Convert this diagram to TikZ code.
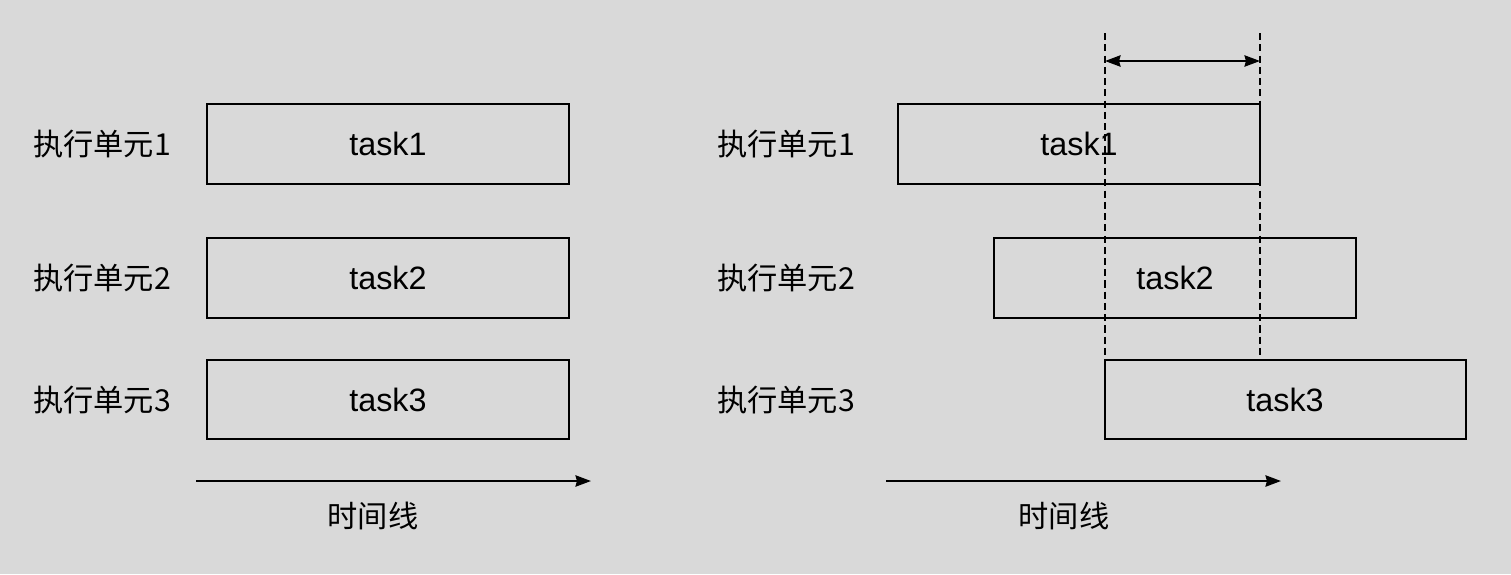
\documentclass[tikz,border=0pt]{standalone}
\usepackage{fontspec}
\setmainfont{Liberation Sans}
\newfontfamily\cjk{Noto Sans CJK SC}
\usetikzlibrary{arrows.meta}
\tikzset{
  taskbox/.style={draw, line width=1.9pt, fill=none},
  unitlabel/.style={font=\cjk\fontsize{21.5}{25}\selectfont},
  tasklabel/.style={font=\fontsize{23}{27}\selectfont},
  timeline/.style={-{Stealth[length=11pt,width=8pt,inset=1pt]}, line width=1.6pt},
  overlap/.style={dashed, dash pattern=on 5pt off 3pt, line width=1.6pt},
}
\begin{document}
\begin{tikzpicture}[x=0.025cm, y=-0.025cm]
\fill[black!15] (0,0) rectangle (1511,574);
\useasboundingbox (0,0) rectangle (1511,574);
% left
\draw[taskbox] (207,104) rectangle (569,184);
\draw[taskbox] (207,238) rectangle (569,318);
\draw[taskbox] (207,360) rectangle (569,439);
\node[tasklabel] (lt1) at (388,144) {task1};
\node[tasklabel] (lt2) at (388,278) {task2};
\node[tasklabel] (lt3) at (388,400) {task3};
\node[unitlabel] (lu1) at (102,144) {执行单元1};
\node[unitlabel] (lu2) at (102,278) {执行单元2};
\node[unitlabel] (lu3) at (102,400) {执行单元3};
\coordinate (la) at (196,481);
\coordinate (lb) at (591,481);
\draw[timeline] (la) -- (lb);
\node[unitlabel] (lt) at (373,516) {时间线};
% right
\draw[taskbox] (898,104) rectangle (1260,184);
\draw[taskbox] (994,238) rectangle (1356,318);
\draw[taskbox] (1105,360) rectangle (1466,439);
\node[tasklabel] (rt1) at (1079,144) {task1};
\node[tasklabel] (rt2) at (1175,278) {task2};
\node[tasklabel] (rt3) at (1285,400) {task3};
\node[unitlabel] (ru1) at (786,144) {执行单元1};
\node[unitlabel] (ru2) at (786,278) {执行单元2};
\node[unitlabel] (ru3) at (786,400) {执行单元3};
\coordinate (ra) at (886,481);
\coordinate (rb) at (1281,481);
\draw[timeline] (ra) -- (rb);
\node[unitlabel] (rt) at (1064,516) {时间线};
% overlap
\coordinate (d1) at (1105,33);
\coordinate (d2) at (1260,33);
\draw[overlap] (d1) -- (1105,360);
\draw[overlap] (d2) -- (1260,360);
\draw[{Stealth[length=11pt,width=8pt,inset=1pt]}-{Stealth[length=11pt,width=8pt,inset=1pt]}, line width=1.6pt] (1105,61) -- (1260,61);
\end{tikzpicture}
\end{document}
